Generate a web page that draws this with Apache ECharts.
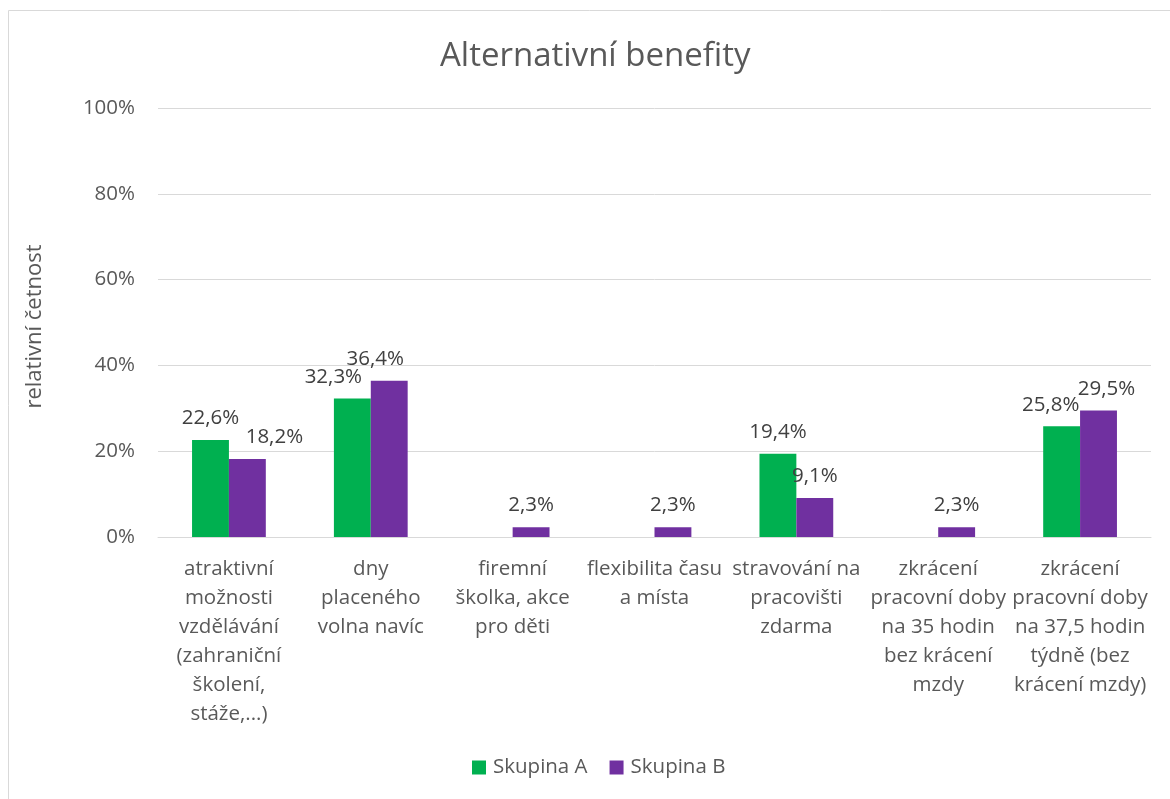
<!DOCTYPE html>
<html><head><meta charset="utf-8">
<script src="https://cdn.jsdelivr.net/npm/echarts@6/dist/echarts.min.js"></script>
<style>html,body{margin:0;padding:0;background:#fff}#c{width:1170px;height:799px}</style>
</head><body><div id="c"></div>
<script>
const categories = [
  "atraktivní\nmožnosti\nvzdělávání\n(zahraniční\nškolení,\nstáže,...)",
  "dny\nplaceného\nvolna navíc",
  "firemní\nškolka, akce\npro děti",
  "flexibilita času\na místa",
  "stravování na\npracovišti\nzdarma",
  "zkrácení\npracovní doby\nna 35 hodin\nbez krácení\nmzdy",
  "zkrácení\npracovní doby\nna 37,5 hodin\ntýdně (bez\nkrácení mzdy)"
];
const skupinaA = [22.6, 32.3, null, null, 19.4, null, 25.8];
const skupinaB = [18.2, 36.4, 2.3, 2.3, 9.1, 2.3, 29.5];
const yTicks = [0, 20, 40, 60, 80, 100];

const FONT = '"Open Sans", Lato, sans-serif';
const TXT = '#595959';
// horizontal nudges of some value labels (as in the reference, to avoid overlaps)
const shiftA = [0, -19, 0, 0, 0, 0, -11];
const shiftB = [27, -14, 0, 0, 0, 0, 8];
function fmt(v){ return v.toFixed(1).replace('.', ',') + '%'; }
function build(vals, shifts){
  return vals.map((v,i)=> v==null ? null : {value:v, label:{offset:[shifts[i],0]}});
}
const chart = echarts.init(document.getElementById('c'));
chart.setOption({
  animation:false,
  textStyle:{fontFamily:FONT},
  graphic:[{type:'rect', shape:{x:8.5,y:10.5,width:1170,height:800},
    style:{fill:null, stroke:'#d9d9d9', lineWidth:1}}],
  title:{text:'Alternativní benefity', left:435, top:35,
    textStyle:{fontFamily:FONT, fontSize:33, fontWeight:'normal', color:TXT}},
  legend:{bottom:16, left:467, itemWidth:14, itemHeight:14, itemGap:22,
    icon:'rect', textStyle:{fontFamily:FONT, fontSize:20.5, color:TXT, padding:[0,0,0,2]},
    data:['Skupina A','Skupina B']},
  grid:{left:158, right:19, top:108, bottom:262, containLabel:false},
  xAxis:{type:'category', data:categories,
    axisLine:{lineStyle:{color:'#d9d9d9'}}, axisTick:{show:false},
    axisLabel:{interval:0, fontFamily:FONT, fontSize:20.5, color:TXT, lineHeight:29, margin:18}},
  yAxis:{type:'value', min:0, max:100, interval:20,
    name:'relativní četnost', nameLocation:'middle', nameGap:112, nameRotate:90,
    nameTextStyle:{fontFamily:FONT, fontSize:22, color:TXT, padding:[0,8,0,0]},
    axisLine:{show:false}, axisTick:{show:false},
    splitLine:{lineStyle:{color:'#d9d9d9'}},
    axisLabel:{fontFamily:FONT, fontSize:20.5, color:TXT, margin:23,
      formatter:v=> yTicks.includes(v) ? v+'%' : ''}},
  series:[
    {name:'Skupina A', type:'bar', data:build(skupinaA, shiftA), barGap:'0%', barCategoryGap:'48%',
      itemStyle:{color:'#00b050'},
      label:{show:true, position:'top', distance:11, fontFamily:FONT, fontSize:20.5, color:'#404040',
        formatter:p=>fmt(p.value)}},
    {name:'Skupina B', type:'bar', data:build(skupinaB, shiftB), barGap:'0%', barCategoryGap:'48%',
      itemStyle:{color:'#7030a0'},
      label:{show:true, position:'top', distance:11, fontFamily:FONT, fontSize:20.5, color:'#404040',
        formatter:p=>fmt(p.value)}}
  ]
});
</script></body></html>
